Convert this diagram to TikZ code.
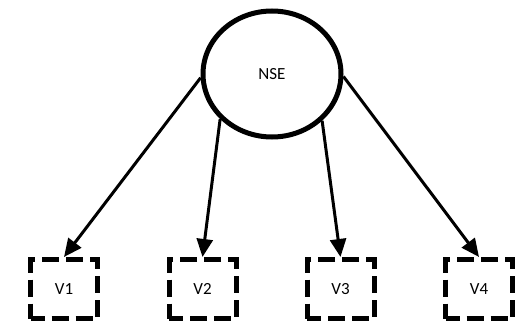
\documentclass[tikz,border=0pt]{standalone}
\usepackage{fontspec}
\setmainfont{Carlito}
\usetikzlibrary{shapes.geometric,arrows.meta}
\begin{document}
\begin{tikzpicture}[x=1pt,y=-1pt,
  latent/.style={draw, ellipse, line width=5pt, minimum width=138pt, minimum height=126pt, inner sep=0pt, font=\fontsize{17}{20}\selectfont},
  vbox/.style={draw, rectangle, line width=5pt, dash pattern=on 17pt off 7pt, dash phase=3pt, minimum width=67pt, minimum height=59pt, inner sep=0pt, font=\fontsize{17}{20}\selectfont},
  arr/.style={line width=3pt, -{Triangle[length=18pt,width=16pt]}}]
\useasboundingbox (0,0) rectangle (525,326);
\node[latent] (nse) at (272,74) {NSE};
\node[vbox] (v1) at (64,289) {V1};
\node[vbox] (v2) at (202.5,289) {V2};
\node[vbox] (v3) at (340.5,289) {V3};
\node[vbox] (v4) at (479,289) {V4};
\draw[arr] (nse.183) -- (v1.north);
\draw[arr] (nse.221) -- (v2.north);
\draw[arr] (nse.317) -- (v3.north);
\draw[arr] (nse.358) -- (v4.north);
\end{tikzpicture}
\end{document}
